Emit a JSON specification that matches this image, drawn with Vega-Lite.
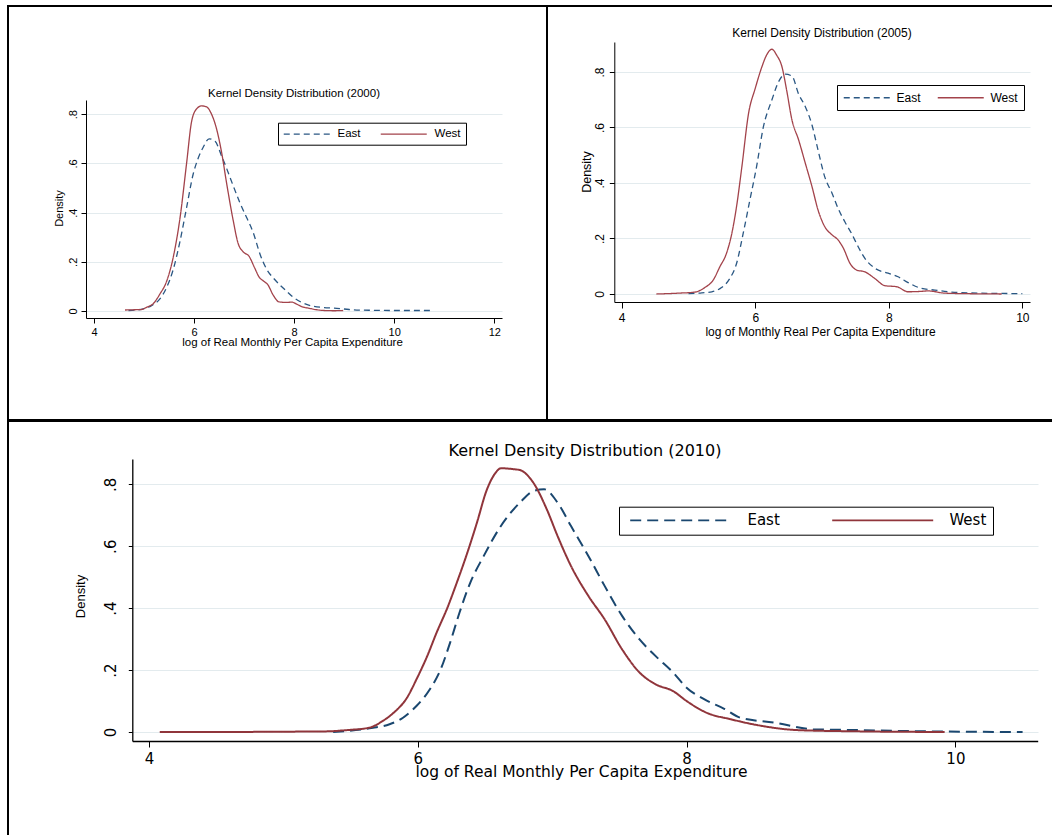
{
  "$schema": "https://vega.github.io/schema/vega-lite/v6.json",
  "background": "white",
  "padding": {"left": 7, "top": 5, "right": 0, "bottom": 0},
  "spacing": -2,
  "bounds": "full",
  "config": {
    "view": {"stroke": null},
    "axis": {
      "labelFont": "Liberation Sans", "titleFont": "Liberation Sans",
      "labelColor": "black", "titleColor": "black", "titleFontWeight": "normal",
      "domainColor": "black", "tickColor": "black", "domainWidth": 1, "tickWidth": 1,
      "labelFlush": false, "labelOverlap": false, "labelBound": false,
      "titleAlign": "center", "titleBaseline": "middle"
    },
    "legend": {"labelFont": "Liberation Sans", "labelColor": "black"},
    "title": {"font": "Liberation Sans", "fontWeight": "normal", "color": "black"}
  },
  "resolve": {
    "scale": {"color": "independent", "strokeDash": "independent"},
    "legend": {"color": "independent", "strokeDash": "independent"}
  },
  "datasets": {
    "d2000": [
      {"g": "East", "x": 4.69, "d": 0.002}, {"g": "East", "x": 4.85, "d": 0.004}, {"g": "East", "x": 5.0, "d": 0.01},
      {"g": "East", "x": 5.15, "d": 0.022}, {"g": "East", "x": 5.3, "d": 0.045}, {"g": "East", "x": 5.45, "d": 0.095},
      {"g": "East", "x": 5.585, "d": 0.17}, {"g": "East", "x": 5.72, "d": 0.285}, {"g": "East", "x": 5.85, "d": 0.42},
      {"g": "East", "x": 5.98, "d": 0.555}, {"g": "East", "x": 6.08, "d": 0.62}, {"g": "East", "x": 6.18, "d": 0.665},
      {"g": "East", "x": 6.3, "d": 0.70}, {"g": "East", "x": 6.42, "d": 0.69}, {"g": "East", "x": 6.55, "d": 0.63},
      {"g": "East", "x": 6.65, "d": 0.58}, {"g": "East", "x": 6.78, "d": 0.51}, {"g": "East", "x": 6.92, "d": 0.438},
      {"g": "East", "x": 7.05, "d": 0.38}, {"g": "East", "x": 7.18, "d": 0.32}, {"g": "East", "x": 7.32, "d": 0.23},
      {"g": "East", "x": 7.45, "d": 0.17}, {"g": "East", "x": 7.58, "d": 0.135}, {"g": "East", "x": 7.72, "d": 0.105},
      {"g": "East", "x": 7.85, "d": 0.08}, {"g": "East", "x": 7.98, "d": 0.056}, {"g": "East", "x": 8.15, "d": 0.035},
      {"g": "East", "x": 8.36, "d": 0.02}, {"g": "East", "x": 8.6, "d": 0.014}, {"g": "East", "x": 8.8, "d": 0.012},
      {"g": "East", "x": 9.1, "d": 0.006}, {"g": "East", "x": 9.5, "d": 0.003}, {"g": "East", "x": 10.0, "d": 0.002},
      {"g": "East", "x": 10.4, "d": 0.002}, {"g": "East", "x": 10.75, "d": 0.002},
      {"g": "West", "x": 4.62, "d": 0.004}, {"g": "West", "x": 4.8, "d": 0.005}, {"g": "West", "x": 4.95, "d": 0.006},
      {"g": "West", "x": 5.05, "d": 0.015}, {"g": "West", "x": 5.185, "d": 0.03}, {"g": "West", "x": 5.32, "d": 0.07},
      {"g": "West", "x": 5.45, "d": 0.12}, {"g": "West", "x": 5.585, "d": 0.22}, {"g": "West", "x": 5.72, "d": 0.38},
      {"g": "West", "x": 5.85, "d": 0.6}, {"g": "West", "x": 5.95, "d": 0.77}, {"g": "West", "x": 6.05, "d": 0.822},
      {"g": "West", "x": 6.15, "d": 0.834}, {"g": "West", "x": 6.25, "d": 0.83}, {"g": "West", "x": 6.35, "d": 0.80},
      {"g": "West", "x": 6.45, "d": 0.74}, {"g": "West", "x": 6.55, "d": 0.645}, {"g": "West", "x": 6.65, "d": 0.52},
      {"g": "West", "x": 6.78, "d": 0.37}, {"g": "West", "x": 6.88, "d": 0.275}, {"g": "West", "x": 6.98, "d": 0.241},
      {"g": "West", "x": 7.1, "d": 0.222}, {"g": "West", "x": 7.2, "d": 0.18}, {"g": "West", "x": 7.3, "d": 0.138},
      {"g": "West", "x": 7.4, "d": 0.12}, {"g": "West", "x": 7.47, "d": 0.108}, {"g": "West", "x": 7.58, "d": 0.065},
      {"g": "West", "x": 7.7, "d": 0.037}, {"g": "West", "x": 7.85, "d": 0.035}, {"g": "West", "x": 7.95, "d": 0.036},
      {"g": "West", "x": 8.05, "d": 0.028}, {"g": "West", "x": 8.15, "d": 0.018}, {"g": "West", "x": 8.3, "d": 0.011},
      {"g": "West", "x": 8.45, "d": 0.005}, {"g": "West", "x": 8.6, "d": 0.002}, {"g": "West", "x": 8.8, "d": 0.001},
      {"g": "West", "x": 8.98, "d": 0.002}
    ],
    "d2005": [
      {"g": "East", "x": 5.0, "d": 0.001}, {"g": "East", "x": 5.2, "d": 0.004}, {"g": "East", "x": 5.35, "d": 0.008},
      {"g": "East", "x": 5.5, "d": 0.024}, {"g": "East", "x": 5.62, "d": 0.056}, {"g": "East", "x": 5.72, "d": 0.11},
      {"g": "East", "x": 5.82, "d": 0.219}, {"g": "East", "x": 5.92, "d": 0.339}, {"g": "East", "x": 6.02, "d": 0.459},
      {"g": "East", "x": 6.12, "d": 0.6}, {"g": "East", "x": 6.25, "d": 0.7}, {"g": "East", "x": 6.35, "d": 0.765},
      {"g": "East", "x": 6.45, "d": 0.792}, {"g": "East", "x": 6.55, "d": 0.785}, {"g": "East", "x": 6.65, "d": 0.72},
      {"g": "East", "x": 6.75, "d": 0.675}, {"g": "East", "x": 6.85, "d": 0.609}, {"g": "East", "x": 6.94, "d": 0.519},
      {"g": "East", "x": 7.04, "d": 0.423}, {"g": "East", "x": 7.15, "d": 0.363}, {"g": "East", "x": 7.24, "d": 0.309},
      {"g": "East", "x": 7.34, "d": 0.261}, {"g": "East", "x": 7.44, "d": 0.219}, {"g": "East", "x": 7.54, "d": 0.171},
      {"g": "East", "x": 7.64, "d": 0.129}, {"g": "East", "x": 7.79, "d": 0.093}, {"g": "East", "x": 7.99, "d": 0.075},
      {"g": "East", "x": 8.14, "d": 0.062}, {"g": "East", "x": 8.29, "d": 0.041}, {"g": "East", "x": 8.49, "d": 0.02},
      {"g": "East", "x": 8.69, "d": 0.014}, {"g": "East", "x": 8.94, "d": 0.007}, {"g": "East", "x": 9.34, "d": 0.003},
      {"g": "East", "x": 9.7, "d": 0.002}, {"g": "East", "x": 10.0, "d": 0.001},
      {"g": "West", "x": 4.52, "d": 0.0}, {"g": "West", "x": 4.85, "d": 0.003}, {"g": "West", "x": 5.1, "d": 0.007},
      {"g": "West", "x": 5.25, "d": 0.024}, {"g": "West", "x": 5.37, "d": 0.05}, {"g": "West", "x": 5.47, "d": 0.098},
      {"g": "West", "x": 5.57, "d": 0.147}, {"g": "West", "x": 5.65, "d": 0.219}, {"g": "West", "x": 5.72, "d": 0.315},
      {"g": "West", "x": 5.8, "d": 0.459}, {"g": "West", "x": 5.9, "d": 0.651}, {"g": "West", "x": 6.0, "d": 0.741},
      {"g": "West", "x": 6.1, "d": 0.819}, {"g": "West", "x": 6.17, "d": 0.861}, {"g": "West", "x": 6.25, "d": 0.882},
      {"g": "West", "x": 6.32, "d": 0.861}, {"g": "West", "x": 6.4, "d": 0.819}, {"g": "West", "x": 6.47, "d": 0.735},
      {"g": "West", "x": 6.55, "d": 0.627}, {"g": "West", "x": 6.65, "d": 0.555}, {"g": "West", "x": 6.75, "d": 0.471},
      {"g": "West", "x": 6.85, "d": 0.387}, {"g": "West", "x": 6.94, "d": 0.303}, {"g": "West", "x": 7.04, "d": 0.243},
      {"g": "West", "x": 7.15, "d": 0.213}, {"g": "West", "x": 7.24, "d": 0.195}, {"g": "West", "x": 7.32, "d": 0.165},
      {"g": "West", "x": 7.42, "d": 0.11}, {"g": "West", "x": 7.52, "d": 0.086}, {"g": "West", "x": 7.64, "d": 0.08},
      {"g": "West", "x": 7.79, "d": 0.056}, {"g": "West", "x": 7.94, "d": 0.03}, {"g": "West", "x": 8.12, "d": 0.026},
      {"g": "West", "x": 8.29, "d": 0.008}, {"g": "West", "x": 8.45, "d": 0.009}, {"g": "West", "x": 8.59, "d": 0.011},
      {"g": "West", "x": 8.84, "d": 0.003}, {"g": "West", "x": 9.2, "d": 0.001}, {"g": "West", "x": 9.69, "d": 0.0}
    ],
    "d2010": [
      {"g": "East", "x": 5.37, "d": 0.0}, {"g": "East", "x": 5.64, "d": 0.012}, {"g": "East", "x": 5.79, "d": 0.025},
      {"g": "East", "x": 5.89, "d": 0.046}, {"g": "East", "x": 5.99, "d": 0.084}, {"g": "East", "x": 6.09, "d": 0.138},
      {"g": "East", "x": 6.17, "d": 0.202}, {"g": "East", "x": 6.24, "d": 0.288}, {"g": "East", "x": 6.31, "d": 0.385},
      {"g": "East", "x": 6.39, "d": 0.482}, {"g": "East", "x": 6.49, "d": 0.568}, {"g": "East", "x": 6.61, "d": 0.66},
      {"g": "East", "x": 6.76, "d": 0.741}, {"g": "East", "x": 6.86, "d": 0.778}, {"g": "East", "x": 6.94, "d": 0.784},
      {"g": "East", "x": 7.04, "d": 0.741}, {"g": "East", "x": 7.14, "d": 0.665}, {"g": "East", "x": 7.27, "d": 0.568},
      {"g": "East", "x": 7.39, "d": 0.472}, {"g": "East", "x": 7.52, "d": 0.375}, {"g": "East", "x": 7.65, "d": 0.299},
      {"g": "East", "x": 7.77, "d": 0.245}, {"g": "East", "x": 7.9, "d": 0.192}, {"g": "East", "x": 8.0, "d": 0.143},
      {"g": "East", "x": 8.13, "d": 0.106}, {"g": "East", "x": 8.28, "d": 0.075}, {"g": "East", "x": 8.4, "d": 0.046},
      {"g": "East", "x": 8.66, "d": 0.03}, {"g": "East", "x": 8.94, "d": 0.009}, {"g": "East", "x": 9.29, "d": 0.006},
      {"g": "East", "x": 9.8, "d": 0.002}, {"g": "East", "x": 10.5, "d": 0.0},
      {"g": "West", "x": 4.08, "d": 0.0}, {"g": "West", "x": 4.5, "d": 0.0}, {"g": "West", "x": 5.0, "d": 0.001},
      {"g": "West", "x": 5.32, "d": 0.002}, {"g": "West", "x": 5.47, "d": 0.006}, {"g": "West", "x": 5.64, "d": 0.014},
      {"g": "West", "x": 5.74, "d": 0.036}, {"g": "West", "x": 5.82, "d": 0.062}, {"g": "West", "x": 5.92, "d": 0.111},
      {"g": "West", "x": 5.99, "d": 0.17}, {"g": "West", "x": 6.07, "d": 0.245}, {"g": "West", "x": 6.14, "d": 0.321},
      {"g": "West", "x": 6.22, "d": 0.401}, {"g": "West", "x": 6.29, "d": 0.482}, {"g": "West", "x": 6.36, "d": 0.568},
      {"g": "West", "x": 6.44, "d": 0.676}, {"g": "West", "x": 6.51, "d": 0.778}, {"g": "West", "x": 6.57, "d": 0.832},
      {"g": "West", "x": 6.62, "d": 0.852}, {"g": "West", "x": 6.71, "d": 0.849}, {"g": "West", "x": 6.76, "d": 0.846},
      {"g": "West", "x": 6.86, "d": 0.805}, {"g": "West", "x": 6.96, "d": 0.719}, {"g": "West", "x": 7.04, "d": 0.633},
      {"g": "West", "x": 7.14, "d": 0.536}, {"g": "West", "x": 7.27, "d": 0.439}, {"g": "West", "x": 7.39, "d": 0.364},
      {"g": "West", "x": 7.52, "d": 0.267}, {"g": "West", "x": 7.65, "d": 0.192}, {"g": "West", "x": 7.77, "d": 0.154},
      {"g": "West", "x": 7.9, "d": 0.132}, {"g": "West", "x": 8.0, "d": 0.1}, {"g": "West", "x": 8.15, "d": 0.062},
      {"g": "West", "x": 8.33, "d": 0.041}, {"g": "West", "x": 8.53, "d": 0.022}, {"g": "West", "x": 8.83, "d": 0.006},
      {"g": "West", "x": 9.29, "d": 0.002}, {"g": "West", "x": 9.92, "d": 0.0}
    ]
  },
  "vconcat": [
    {
      "spacing": 0,
      "bounds": "flush",
      "resolve": {
        "scale": {"color": "independent", "strokeDash": "independent"},
        "legend": {"color": "independent", "strokeDash": "independent"}
      },
      "hconcat": [
        {
          "width": 539,
          "height": 414,
          "view": {"stroke": "black", "strokeWidth": 2},
          "title": {"text": "Kernel Density Distribution (2000)", "frame": "group", "anchor": "middle", "dx": 16.5, "offset": -93, "baseline": "top", "fontSize": 11.5},
          "data": {"name": "d2000"},
          "mark": {"type": "line", "strokeWidth": 1.3, "interpolate": "monotone"},
          "encoding": {
            "x": {
              "field": "x", "type": "quantitative",
              "scale": {"domain": [2.2814, 13.0528], "nice": false, "zero": false},
              "axis": {
                "orient": "bottom", "offset": -102, "values": [4, 6, 8, 10, 12], "grid": false,
                "domainDash": [0, 78, 416, 2000], "tickSize": 5, "labelPadding": 3, "labelFontSize": 11,
                "title": "log of Real Monthly Per Capita Expenditure", "titleFontSize": 11.5, "titleX": 284, "titleY": 24
              }
            },
            "y": {
              "field": "d", "type": "quantitative",
              "scale": {"domain": [-0.4433, 1.2403], "nice": false, "zero": false},
              "axis": {
                "orient": "left", "offset": -78, "values": [0, 0.2, 0.4, 0.6, 0.8],
                "labelExpr": "datum.value === 0 ? '0' : slice(format(datum.value, '.1f'), 1)",
                "labelAngle": 270, "labelAlign": "center", "labelBaseline": "bottom", "labelPadding": 3, "labelFontSize": 11,
                "tickSize": 5, "domainDash": [0, 102, 218, 2000],
                "grid": true, "gridColor": "#e3ebee", "gridWidth": 1, "gridDash": [0, 78, 416, 2000],
                "title": "Density", "titleFontSize": 11, "titleAngle": 270, "titleX": -26.7, "titleY": 202
              }
            },
            "color": {
              "field": "g", "type": "nominal",
              "scale": {"domain": ["East", "West"], "range": ["#2a5783", "#a3434b"]},
              "legend": {"orient": "none", "legendX": 270, "legendY": 116.7, "direction": "horizontal", "title": null,
                "symbolType": "M-4,0L4,0", "symbolSize": 132.25, "symbolStrokeWidth": 1.3, "symbolOffset": 17.25,
                "labelFontSize": 11.5, "labelOffset": 24.25, "columnPadding": 17, "padding": 5,
                "strokeColor": "black", "fillColor": "white"}
            },
            "strokeDash": {
              "field": "g", "type": "nominal",
              "scale": {"domain": ["East", "West"], "range": [[6, 4], [1, 0]]},
              "legend": {"orient": "none", "legendX": 270, "legendY": 116.7, "direction": "horizontal", "title": null,
                "symbolType": "M-4,0L4,0", "symbolSize": 132.25, "symbolStrokeWidth": 1.3, "symbolOffset": 17.25,
                "labelFontSize": 11.5, "labelOffset": 24.25, "columnPadding": 17, "padding": 5,
                "strokeColor": "black", "fillColor": "white"}
            }
          }
        },
        {
          "width": 505,
          "height": 414,
          "view": {"stroke": "black", "strokeWidth": 2, "strokeDash": [505, 414, 919, 0]},
          "title": {"text": "Kernel Density Distribution (2005)", "frame": "group", "anchor": "middle", "dx": 22.5, "offset": -33.5, "baseline": "top", "fontSize": 12},
          "data": {"name": "d2005"},
          "mark": {"type": "line", "strokeWidth": 1.3, "interpolate": "monotone"},
          "encoding": {
            "x": {
              "field": "x", "type": "quantitative",
              "scale": {"domain": [2.8812, 10.4445], "nice": false, "zero": false},
              "axis": {
                "orient": "bottom", "offset": -118, "values": [4, 6, 8, 10], "grid": false,
                "domainDash": [0, 67.3, 415.7, 2000], "tickSize": 6, "labelPadding": 4, "labelFontSize": 12,
                "title": "log of Monthly Real Per Capita  Expenditure", "titleFontSize": 12, "titleX": 273, "titleY": 29
              }
            },
            "y": {
              "field": "d", "type": "quantitative",
              "scale": {"domain": [-0.4541, 1.0378], "nice": false, "zero": false},
              "axis": {
                "orient": "left", "offset": -67.3, "values": [0, 0.2, 0.4, 0.6, 0.8],
                "labelExpr": "datum.value === 0 ? '0' : slice(format(datum.value, '.1f'), 1)",
                "labelAngle": 270, "labelAlign": "center", "labelBaseline": "bottom", "labelPadding": 3, "labelFontSize": 12,
                "tickSize": 5, "domainDash": [0, 118, 260, 2000],
                "grid": true, "gridColor": "#e3ebee", "gridWidth": 1, "gridDash": [0, 67.3, 415.7, 2000],
                "title": "Density", "titleFontSize": 12.5, "titleAngle": 270, "titleX": -27.6, "titleY": 165.5
              }
            },
            "color": {
              "field": "g", "type": "nominal",
              "scale": {"domain": ["East", "West"], "range": ["#2a5783", "#a3434b"]},
              "legend": {"orient": "none", "legendX": 290, "legendY": 79, "direction": "horizontal", "title": null,
                "symbolType": "M-4,0L4,0", "symbolSize": 132.25, "symbolStrokeWidth": 1.3, "symbolOffset": 17.25,
                "labelFontSize": 12, "labelOffset": 23.25, "columnPadding": 14, "padding": 6,
                "strokeColor": "black", "fillColor": "white"}
            },
            "strokeDash": {
              "field": "g", "type": "nominal",
              "scale": {"domain": ["East", "West"], "range": [[6, 4], [1, 0]]},
              "legend": {"orient": "none", "legendX": 290, "legendY": 79, "direction": "horizontal", "title": null,
                "symbolType": "M-4,0L4,0", "symbolSize": 132.25, "symbolStrokeWidth": 1.3, "symbolOffset": 17.25,
                "labelFontSize": 12, "labelOffset": 23.25, "columnPadding": 14, "padding": 6,
                "strokeColor": "black", "fillColor": "white"}
            }
          }
        }
      ]
    },
    {
      "width": 1044,
      "height": 414,
      "view": {"stroke": "black", "strokeWidth": 2, "strokeDash": [1044, 1458, 414, 0]},
      "title": {"text": "Kernel Density Distribution (2010)", "frame": "group", "anchor": "middle", "dx": 55, "offset": -37.6, "baseline": "top", "fontSize": 16, "font": "DejaVu Sans"},
      "data": {"name": "d2010"},
      "mark": {"type": "line", "strokeWidth": 2, "interpolate": "monotone"},
      "encoding": {
        "x": {
          "field": "x", "type": "quantitative",
          "scale": {"domain": [2.9509, 10.7188], "nice": false, "zero": false},
          "axis": {
            "orient": "bottom", "offset": -94, "values": [4, 6, 8, 10], "grid": false,
            "domainDash": [0, 124.3, 905.4, 2000], "domainWidth": 1.3, "tickSize": 6, "labelPadding": 4,
            "labelFont": "DejaVu Sans", "labelFontSize": 15,
            "title": "log of Real Monthly Per Capita Expenditure", "titleFont": "DejaVu Sans", "titleFontSize": 15.5, "titleX": 573, "titleY": 30.5
          }
        },
        "y": {
          "field": "d", "type": "quantitative",
          "scale": {"domain": [-0.3327, 1.0045], "nice": false, "zero": false},
          "axis": {
            "orient": "left", "offset": -124.3, "values": [0, 0.2, 0.4, 0.6, 0.8],
            "labelExpr": "datum.value === 0 ? '0' : slice(format(datum.value, '.1f'), 1)",
            "labelAngle": 270, "labelAlign": "center", "labelBaseline": "bottom", "labelPadding": 10,
            "labelFont": "DejaVu Sans", "labelFontSize": 15,
            "tickSize": 4, "domainDash": [0, 94, 282, 2000], "domainWidth": 1.3,
            "grid": true, "gridColor": "#e3ebee", "gridWidth": 1, "gridDash": [0, 124.3, 905.7, 2000],
            "title": "Density", "titleFontSize": 13, "titleAngle": 270, "titleX": -52.3, "titleY": 175
          }
        },
        "color": {
          "field": "g", "type": "nominal",
          "scale": {"domain": ["East", "West"], "range": ["#1a476f", "#90353b"]},
          "legend": {"orient": "none", "legendX": 611, "legendY": 85.7, "direction": "horizontal", "title": null,
            "symbolType": "M-8,0L8,0", "symbolSize": 159.4, "symbolStrokeWidth": 1.8, "symbolOffset": 48.2,
            "labelFont": "DejaVu Sans", "labelFontSize": 15,
            "labelOffset": 59.2, "columnPadding": 47, "padding": 6, "strokeColor": "black", "fillColor": "white"}
        },
        "strokeDash": {
          "field": "g", "type": "nominal",
          "scale": {"domain": ["East", "West"], "range": [[11, 6], [1, 0]]},
          "legend": {"orient": "none", "legendX": 611, "legendY": 85.7, "direction": "horizontal", "title": null,
            "symbolType": "M-8,0L8,0", "symbolSize": 159.4, "symbolStrokeWidth": 1.8, "symbolOffset": 48.2,
            "labelFont": "DejaVu Sans", "labelFontSize": 15,
            "labelOffset": 59.2, "columnPadding": 47, "padding": 6, "strokeColor": "black", "fillColor": "white"}
        }
      }
    }
  ]
}
